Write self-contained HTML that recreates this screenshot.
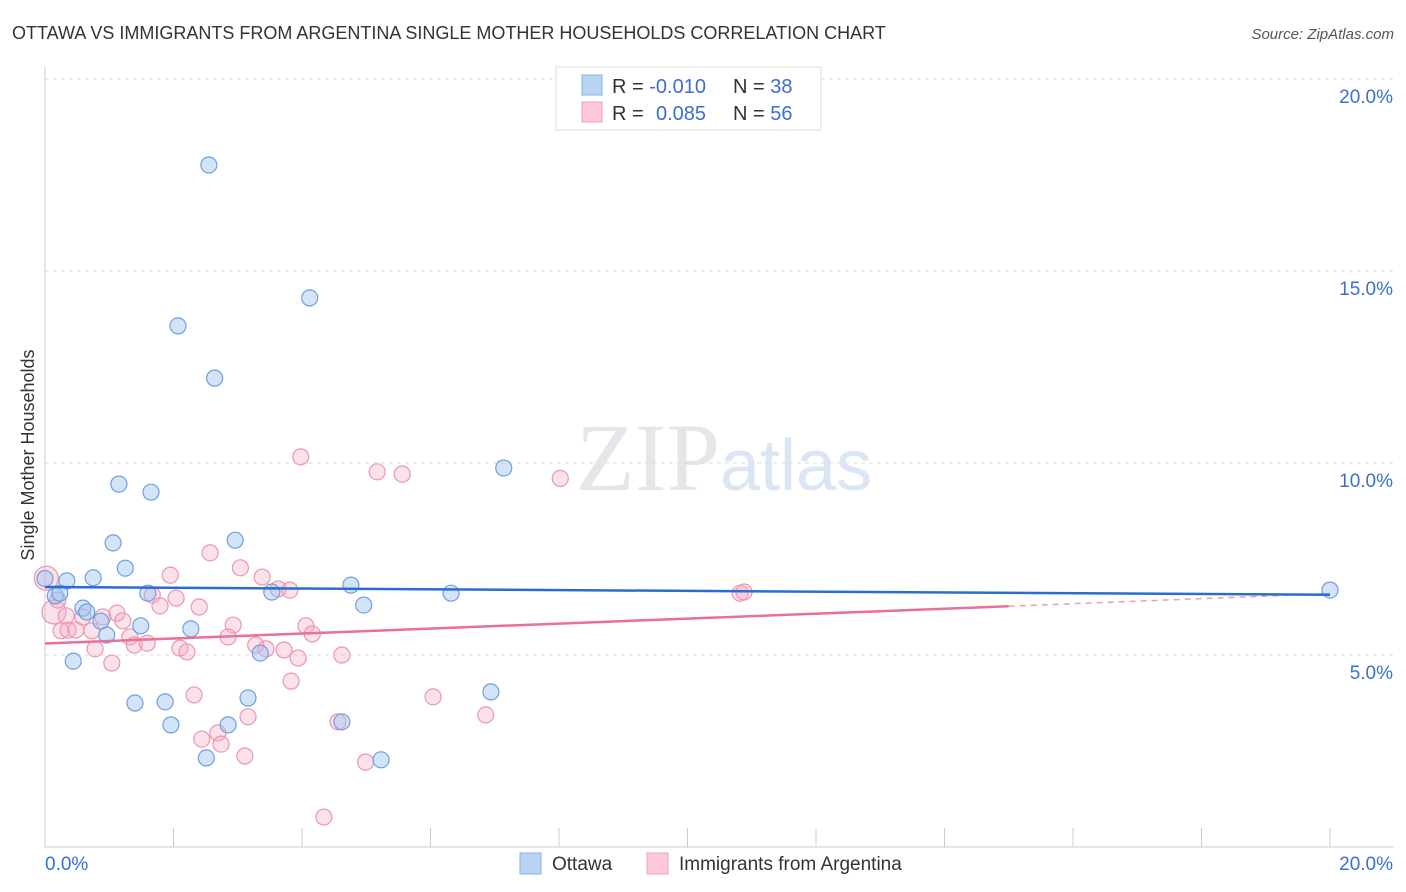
<!DOCTYPE html>
<html><head><meta charset="utf-8"><style>
body{margin:0;background:#fff;font-family:"Liberation Sans",sans-serif}
svg{display:block}
</style></head><body>
<svg id="c" width="1406" height="892">
<text x="12" y="39" font-size="18" fill="#333">OTTAWA VS IMMIGRANTS FROM ARGENTINA SINGLE MOTHER HOUSEHOLDS CORRELATION CHART</text>
<text x="1394" y="39" font-size="15" fill="#555" font-style="italic" text-anchor="end">Source: ZipAtlas.com</text>
<text x="720" y="490" font-size="96" fill="#e6e6ea" text-anchor="end" font-family="Liberation Serif">ZIP</text>
<text x="720" y="490" font-size="72" fill="#dbe6f5">atlas</text>
<g id="grid"></g><g id="axes"></g><g id="marks"></g>
<text transform="translate(34,455) rotate(-90)" font-size="18" fill="#333" text-anchor="middle">Single Mother Households</text>
<g>
<rect x="556" y="67" width="265" height="63" fill="#fff" stroke="#ddd"/>
<rect x="582" y="75" width="20" height="20" fill="#b9d3f5" stroke="#8ab2e8"/>
<rect x="582" y="102" width="20" height="20" fill="#fbc9d8" stroke="#f0a0ba"/>
<text x="612" y="93" font-size="20" fill="#333">R = <tspan fill="#3a6fd0">-0.010</tspan><tspan x="733">N = </tspan><tspan fill="#3a6fd0">38</tspan></text>
<text x="612" y="120" font-size="20" fill="#333">R = <tspan x="656" fill="#3a6fd0">0.085</tspan><tspan x="733">N = </tspan><tspan fill="#3a6fd0">56</tspan></text>
</g>
<g>
<rect x="520" y="853" width="21" height="21" fill="#b9d3f5" stroke="#8ab2e8"/>
<text x="552" y="870" font-size="19" fill="#333">Ottawa</text>
<rect x="647" y="853" width="21" height="21" fill="#fbc9d8" stroke="#f0a0ba"/>
<text x="679" y="870" font-size="19" fill="#333">Immigrants from Argentina</text>
</g>
</svg>
<script>
const xTicks=[0,2,4,6,8,10,12,14,16,18,20];
const yTicks=[5,10,15,20];
const ottawaX=[2.55,4.12,2.07,2.64,7.14,1.15,1.65,2.96,1.06,1.25,0.0,0.34,0.75,4.76,3.53,1.6,0.16,0.23,6.32,4.96,0.59,0.65,0.87,1.49,2.27,0.96,3.35,0.44,6.94,3.16,1.4,1.87,1.96,2.85,4.62,2.51,5.23,20.0];
const ottawaY=[17.76,14.3,13.57,12.21,9.87,9.45,9.24,7.99,7.92,7.26,6.99,6.93,7.01,6.82,6.64,6.61,6.54,6.61,6.61,6.3,6.22,6.12,5.88,5.76,5.68,5.52,5.05,4.84,4.04,3.88,3.75,3.78,3.18,3.18,3.26,2.32,2.27,6.69];
const argX=[0.02,0.14,3.98,5.17,5.56,8.02,2.57,3.04,1.95,3.38,3.63,1.67,2.04,1.79,2.4,1.12,0.9,0.59,1.21,2.93,4.06,0.25,0.36,0.48,0.73,4.16,1.32,2.85,1.39,1.59,3.28,3.44,0.78,2.1,2.21,3.72,3.94,4.62,1.04,3.83,2.32,6.04,10.82,10.88,6.86,3.16,4.56,2.69,2.44,2.74,3.11,4.99,4.34,0.2,0.33,3.81];
const argY=[7.0,6.12,10.16,9.77,9.71,9.6,7.66,7.27,7.08,7.03,6.72,6.56,6.48,6.28,6.25,6.09,5.99,5.99,5.89,5.78,5.76,5.63,5.65,5.65,5.63,5.55,5.47,5.47,5.26,5.31,5.26,5.16,5.16,5.18,5.08,5.13,4.92,5.0,4.79,4.32,3.96,3.91,6.61,6.64,3.44,3.39,3.26,2.97,2.81,2.68,2.37,2.21,0.78,6.43,6.02,6.69];
const X=v=>45+v*64.25, Y=v=>847-v*38.4;
const NS="http://www.w3.org/2000/svg";
function mk(t,a,p){const e=document.createElementNS(NS,t);for(const k in a)e.setAttribute(k,a[k]);p.appendChild(e);return e;}
const grid=document.getElementById('grid'),axes=document.getElementById('axes'),marks=document.getElementById('marks');
yTicks.forEach(v=>{const l=mk('line',{x1:45,x2:1394,y1:Y(v),y2:Y(v),stroke:'#ddd','stroke-dasharray':'4,4'},grid);

const t=mk('text',{x:1393,y:Y(v)+24,'font-size':19,fill:'#3a6fd0','text-anchor':'end'},axes);t.textContent=v.toFixed(1)+'%';
});
const ax=mk('line',{x1:45,x2:45,y1:67,y2:847,stroke:'#ccc'},axes);
const bx=mk('line',{x1:45,x2:1394,y1:847,y2:847,stroke:'#ccc'},axes);
xTicks.forEach(v=>{const l=mk('line',{x1:X(v),x2:X(v),y1:828,y2:847,stroke:'#ccc'},axes);});
[[0,'start',45],[20,'end',1393]].forEach(([v,a,x])=>{const t=mk('text',{x:x,y:870,'font-size':19,fill:'#3a6fd0','text-anchor':a},axes);t.textContent=v.toFixed(1)+'%';
});
argX.forEach((v,i)=>{const c=mk('circle',{cx:X(v),cy:Y(argY[i]),r:i<2?12:8,fill:'rgba(244,168,195,0.35)',stroke:'#eb96b3','stroke-width':1.2},marks);
});
ottawaX.forEach((v,i)=>{const c=mk('circle',{cx:X(v),cy:Y(ottawaY[i]),r:8,fill:'rgba(160,196,240,0.45)',stroke:'#6e9fe0','stroke-width':1.2},marks);
});
let l=mk('line',{x1:X(0),y1:Y(5.3),x2:X(15),y2:Y(6.27),stroke:'#e8709a','stroke-width':2.5},marks);
l=mk('line',{x1:X(15),y1:Y(6.27),x2:X(20),y2:Y(6.6),stroke:'#e8a0b8','stroke-width':1.5,'stroke-dasharray':'6,5'},marks);
l=mk('line',{x1:X(0),y1:Y(6.77),x2:X(20),y2:Y(6.57),stroke:'#2a6dd2','stroke-width':2.5},marks);
</script>
</body></html>
